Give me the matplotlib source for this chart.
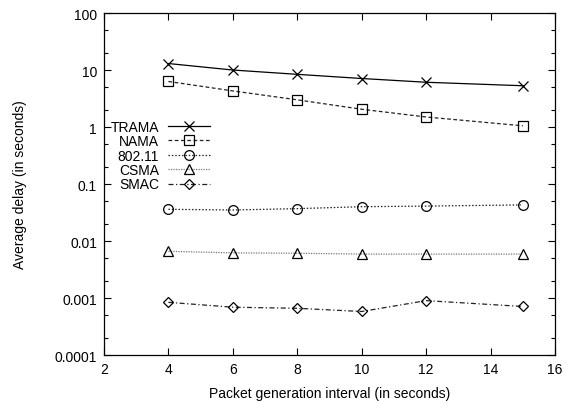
import numpy as np
import matplotlib
matplotlib.use('Agg')
import matplotlib.pyplot as plt
from matplotlib.ticker import LogLocator, NullFormatter

plt.rcParams['font.family'] = ['Liberation Sans', 'DejaVu Sans']
plt.rcParams['font.size'] = 10

# data
interval = [4, 6, 8, 10, 12, 15]
trama = [13.0, 10.0, 8.4, 7.1, 6.1, 5.3]
nama = [6.3, 4.3, 3.0, 2.05, 1.5, 1.05]
wifi = [0.036, 0.035, 0.037, 0.040, 0.041, 0.043]
csma = [0.0066, 0.0062, 0.0061, 0.0059, 0.0059, 0.0059]
smac = [0.00084, 0.00069, 0.00066, 0.00058, 0.00090, 0.00071]

names = ['TRAMA', 'NAMA', '802.11', 'CSMA', 'SMAC']
series = [trama, nama, wifi, csma, smac]
markers = ['x', 's', 'o', '^', 'D']
styles = ['-', (0, (3, 2)), (0, (1.2, 1.5)), (0, (1, 1)), (0, (4, 2, 1, 2))]
colors = ['black', '#222222', '#222222', '#777777', '#222222']
msizes = [7.5, 7, 7, 7, 5.5]

fig = plt.figure(figsize=(5.67, 4.02), dpi=100)
ax = fig.add_axes([0.1834, 0.1144, 0.7955, 0.8507])

for y, name, m, ls, c, ms in zip(series, names, markers, styles, colors, msizes):
    ax.plot(interval, y, linestyle=ls, color=c, linewidth=0.9, marker=m,
            markersize=ms, markerfacecolor='none', markeredgecolor='black',
            markeredgewidth=0.9, label=name)

ax.set_yscale('log')
ax.set_xlim(2, 16)
ax.set_ylim(1e-4, 100)
ax.set_xticks(np.arange(2, 17, 2))
ax.set_yticks([1e-4, 1e-3, 1e-2, 1e-1, 1, 10, 100])
ax.set_yticklabels(['0.0001', '0.001', '0.01', '0.1', '1', '10', '100'])
ax.yaxis.set_minor_locator(LogLocator(base=10, subs=(2, 5), numticks=20))
ax.yaxis.set_minor_formatter(NullFormatter())
ax.tick_params(which='both', direction='in', top=True, right=True, labelsize=10)
ax.tick_params(which='major', length=5, width=0.8, pad=5)
ax.tick_params(which='minor', length=3, width=0.8)
for s in ax.spines.values():
    s.set_linewidth(0.9)

ax.set_xlabel('Packet generation interval (in seconds)', fontsize=10, labelpad=7)
ax.set_ylabel('Average delay (in seconds)', fontsize=10, labelpad=20)

ax.legend(loc='center left', bbox_to_anchor=(0.005, 0.583), frameon=False,
          markerfirst=False, handlelength=3.0, handletextpad=0.65,
          labelspacing=0.03, borderaxespad=0, borderpad=0.3, fontsize=10)

fig.savefig('out.png', dpi=100)
